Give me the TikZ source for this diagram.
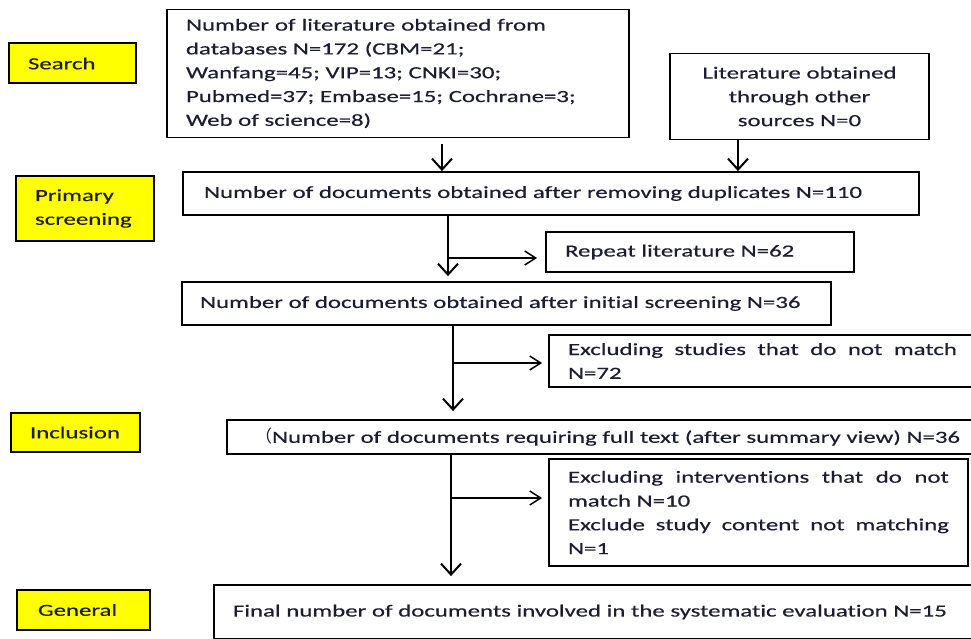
\documentclass[tikz,border=0pt]{standalone}
\usepackage{fontspec}
\setmainfont[FakeStretch=1.46, FakeBold=0.4, Ligatures={NoCommon}]{Carlito}
\newfontfamily\cjkfont{Noto Sans CJK SC}
\usetikzlibrary{arrows.meta}
\definecolor{txt}{RGB}{28,30,48}
\definecolor{labfill}{RGB}{255,255,0}
\newcommand{\jline}[2]{\makebox[#1]{#2}}
\begin{document}
\begin{tikzpicture}[x=1pt,y=-1pt,
  every node/.style={font=\fontsize{17}{23.8}\selectfont, text=txt},
  box/.style={draw=black, line width=1.8pt, inner ysep=0pt, align=left},
  lab/.style={box, fill=labfill, line width=2pt},
  varr/.style={line width=2pt, -{Straight Barb[length=11pt,width=20pt,line width=2pt]}},
  harr/.style={line width=1.3pt, -{Straight Barb[length=11pt,width=14pt,line width=1.5pt]}}]
\useasboundingbox (0,0) rectangle (971,639);
\fill[white] (0,0) rectangle (971,639);
\clip (0,0) rectangle (971,639);
% stage labels
\node[lab, minimum width=127pt, minimum height=40pt, inner xsep=19pt, text width=89pt] (search) at (72.5,63.5) {Search};
\node[lab, minimum width=138pt, minimum height=65pt, inner xsep=19pt, text width=100pt] (primary) at (85,208.5) {Primary\\screening};
\node[lab, minimum width=129pt, minimum height=39pt, inner xsep=19pt, text width=91pt] (inclusion) at (75.5,432.5) {Inclusion};
\node[lab, minimum width=133pt, minimum height=40pt, inner xsep=21pt, text width=91pt] (general) at (83.5,610) {General};
% main boxes
\node[box, minimum width=462pt, minimum height=128pt, inner xsep=19pt, text width=424pt] (db) at (398,73.5)
  {\jline{360pt}{Number\hfill of\hfill literature\hfill obtained\hfill from}\\databases N=172 (CBM=21;\\Wanfang=45; VIP=13; CNKI=30;\\Pubmed=37; Embase=15; Cochrane=3;\\Web of science=8)};
\node[box, minimum width=259pt, minimum height=86pt, inner xsep=9pt, text width=241pt, align=center] (other) at (799.5,96.5)
  {Literature obtained\\through other\\sources N=0};
\node[box, minimum width=736pt, minimum height=43pt, inner xsep=21pt, text width=694pt] (dup) at (551,193.5)
  {Number of documents obtained after removing duplicates N=110};
\node[box, minimum width=308pt, minimum height=40pt, inner xsep=19pt, text width=270pt] (rep) at (700,252)
  {Repeat literature N=62};
\node[box, minimum width=649pt, minimum height=43pt, inner xsep=18pt, text width=613pt] (init) at (506.5,303.5)
  {Number of documents obtained after initial screening N=36};
\node[box, minimum width=500pt, minimum height=52pt, inner xsep=19pt, text width=462pt] (exc1) at (799,361)
  {\jline{389pt}{Excluding\hfill studies\hfill that\hfill do\hfill not\hfill match}\\N=72};
\node[box, minimum width=800pt, minimum height=34pt, inner xsep=28pt, text width=744pt] (full) at (627,437)
  {{\cjkfont （}Number of documents requiring full text (after summary view) N=36};
\node[box, minimum width=419pt, minimum height=107pt, inner xsep=19pt, text width=381pt] (exc2) at (758.5,512.5)
  {\jline{381pt}{Excluding\hfill interventions\hfill that\hfill do\hfill not}\\match N=10\\\jline{381pt}{Exclude\hfill study\hfill content\hfill not\hfill matching}\\N=1};
\node[box, minimum width=800pt, minimum height=54pt, inner xsep=19pt, text width=762pt] (final) at (614,612)
  {Final number of documents involved in the systematic evaluation N=15};
% connector x positions
\coordinate (x1) at (442,0);
\coordinate (x2) at (738,0);
\coordinate (x3) at (448,0);
\coordinate (x4) at (453,0);
\coordinate (x5) at (451,0);
\coordinate (b1) at (448,258);
\coordinate (b2) at (453,363);
\coordinate (b3) at (451,498);
% connectors
\draw[varr, shorten <=6pt] (db.south -| x1) -- (dup.north -| x1);
\draw[varr] (other.south -| x2) -- (dup.north -| x2);
\draw[varr, shorten >=5pt] (dup.south -| x3) -- (init.north -| x3);
\draw[harr, shorten >=8pt] (b1) -- (b1 -| rep.west);
\draw[varr, shorten >=8pt] (init.south -| x4) -- (full.north -| x4);
\draw[harr, shorten >=6pt] (b2) -- (b2 -| exc1.west);
\draw[varr, shorten >=8pt] (full.south -| x5) -- (final.north -| x5);
\draw[harr, shorten >=6pt] (b3) -- (b3 -| exc2.west);
\end{tikzpicture}
\end{document}
